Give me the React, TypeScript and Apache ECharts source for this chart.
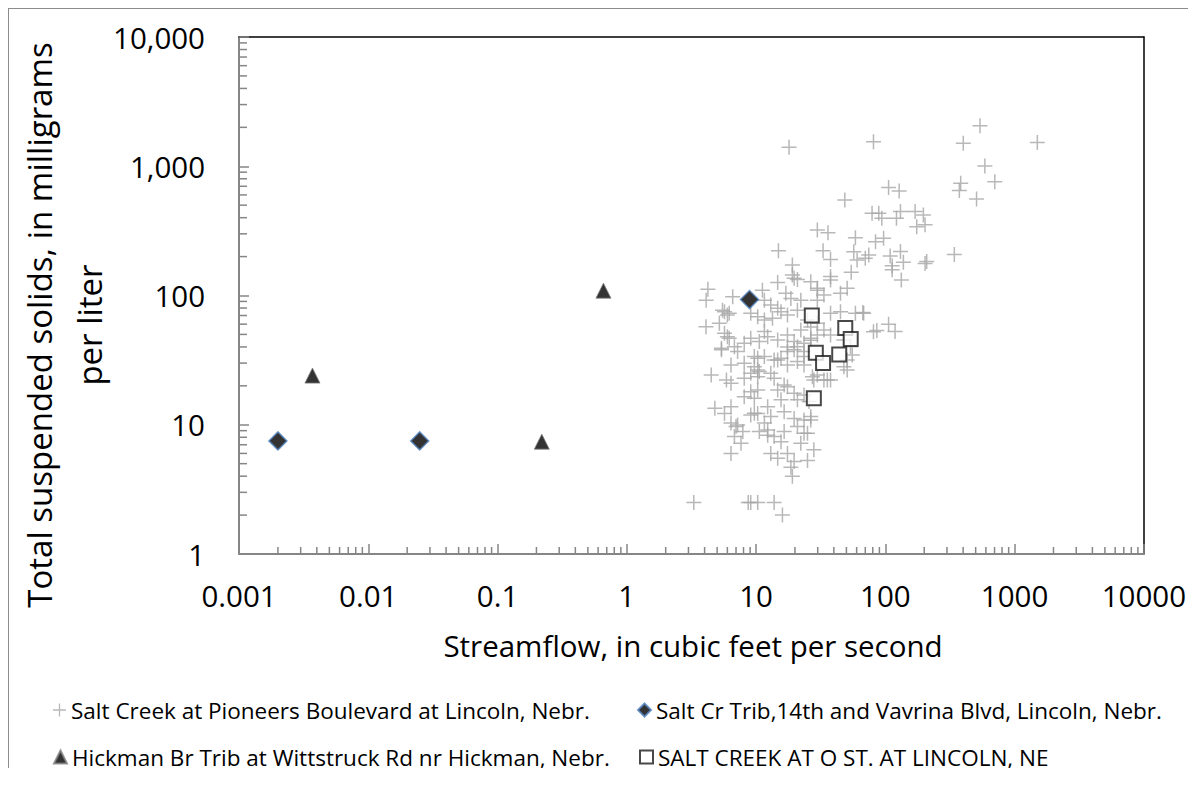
import React, { useEffect, useRef } from "react";
import * as echarts from "echarts";

const X_TICK_LABELS = ["0.001", "0.01", "0.1", "1", "10", "100", "1000", "10000"];
const Y_TICK_LABELS = ["1", "10", "100", "1,000", "10,000"];
const MINOR_MULTIPLIERS = [2, 3, 4, 5, 6, 7, 8, 9];
const X_DECADES = [0.001, 0.01, 0.1, 1, 10, 100, 1000];
const Y_DECADES = [1, 10, 100, 1000];

const SERIES_NAMES = [
  "Salt Creek at Pioneers Boulevard at Lincoln, Nebr.",
  "Salt Cr Trib,14th and Vavrina Blvd, Lincoln, Nebr.",
  "Hickman Br Trib at Wittstruck Rd nr Hickman, Nebr.",
  "SALT CREEK AT O ST. AT LINCOLN, NE",
];

// Salt Creek at Pioneers Boulevard: streamflow (cfs) and TSS (mg/L)
const PIONEERS_Q = [
  18, 81, 48.6, 29.8, 36, 58.7, 14.9, 33, 37.7, 57, 60.5, 19.1, 54.5, 19.1, 20.9, 26.5, 37.7, 50.7, 29.8, 4.24,
  4.11, 6.6, 11.2, 14.7, 17, 33.5,
  540, 401, 1500, 589, 703, 383, 374, 508, 106, 128, 79, 89, 94, 122, 131, 170, 197, 175, 203, 84,
  97, 74.5, 70, 109, 131, 138, 113, 113, 209, 203, 342, 133, 67, 86, 106, 119,
  18.6, 22.2, 29.8, 11.6, 13.0, 14.7, 5.7, 6.2, 5.2, 4.1, 9.1, 10.3, 11.6, 13.4, 15.6, 17.5, 20.9, 25, 29.8, 45,
  37.7, 58.7, 68, 81, 33.5, 37.7, 47.8, 5.7, 6.2, 5.4, 6.8, 8.1, 9.1, 10.6, 12.3, 14.7, 17.5, 19.7, 20.9, 23.5,
  26.5, 29.8, 23.5, 17.5, 13.8, 15.6, 11.6, 10.3, 7.2, 6.4, 8.1, 9.7, 10.6, 9.1, 4.5, 5.9, 6.4, 8.1, 10.3, 13.8,
  17.5, 20.9, 23.5, 28, 33.5, 37.7, 50.7, 47.8, 55.5, 53.8, 50.7, 9.1, 8.1, 9.7, 10.3, 14.7, 16.5, 19.7, 23.5, 27.3,
  15.6, 16.5, 12.3, 13, 11.6, 10.6, 9.1, 10.3, 4.8, 5.7, 6.4, 7.2, 7.9, 6.8, 7.65, 6.4, 12.3, 13.8, 13, 14.7,
  17.5, 19.7, 19.1, 18.6, 20.9, 23.5, 26.5, 25, 28, 25, 22.2, 16.5, 19.7, 3.3, 8.7, 9.1, 10.3, 13.8, 16,
  5.5, 6.0, 6.0, 5.4, 11.6, 17.5, 19.7, 22.2, 26.5, 26.5, 23.5, 14.7, 10.3, 13, 17.5, 20.9, 25.7, 29.8, 35.6, 37.7,
  29.8, 45, 19.7, 9.7, 6.4, 7.0, 9.7, 12.3, 15.6, 23.5, 26.5,
];
const PIONEERS_TSS = [
  1400, 1550, 548, 321, 306, 280, 222, 222, 190, 218, 188, 172, 151, 144, 133, 128, 132, 114, 114, 112,
  92, 98, 110, 126, 104, 101,
  2060, 1507, 1524, 1005, 760, 738, 648, 558, 684, 644, 433, 433, 396, 396, 446, 446, 420, 341, 352, 261,
  277, 206, 194, 202, 219, 181, 170, 158, 183, 177, 208, 132, 74, 53.5, 60, 52.6,
  95, 92, 92, 92, 84.5, 79.6, 75, 72.8, 61, 57.4, 72.8, 68.6, 64.7, 66.6, 75, 70.6, 77, 64.7, 61, 75,
  72.8, 72.8, 72.8, 52.5, 54, 49.5, 45.3, 51, 46.7, 39, 40.2, 42.7, 46.7, 44, 48, 45.3, 49.5, 44, 40.2, 42.7,
  46.7, 49.5, 36.8, 36.8, 31.7, 32.7, 33.7, 32.7, 36.8, 29, 29.9, 28.1, 25.8, 25, 24.3, 22.2, 20.9, 22.9, 23.5, 22.9,
  29, 30.8, 29, 22.2, 22.2, 22.2, 26.5, 28.1, 34.7, 40.2, 31.7, 18, 16.5, 16, 18.6, 18.6, 20.3, 17.5, 17, 23.5,
  15.6, 12.6, 13.8, 11.6, 10.3, 8.85, 11.9, 12.2, 13.4, 12.2, 10.3, 9.95, 8.85, 8.1, 7.2, 6, 8.3, 8.1, 6, 5.5,
  6, 5.2, 4, 4.7, 9.7, 10.9, 11.6, 8.6, 6.4, 5.3, 7.2, 8.85, 11.2, 2.5, 2.5, 2.5, 2.5, 2.5, 2,
  77, 70.6, 48, 38, 52.6, 40, 38, 54, 57, 45, 33.7, 31.7, 26.5, 25, 19.7, 15.6, 15.1, 24.3, 22.2, 140,
  110, 104, 136, 33.7, 13.8, 9.7, 12.3, 9.1, 7.4, 8.6, 10.9,
];

const VAVRINA_Q = [0.002, 0.025, 8.9];
const VAVRINA_TSS = [7.5, 7.5, 93];

const HICKMAN_Q = [0.0037, 0.22, 0.66];
const HICKMAN_TSS = [24, 7.4, 109];

const OST_Q = [27, 49, 54, 29, 44, 33, 28];
const OST_TSS = [70, 56, 46, 36, 35, 30, 16];

const PLUS_PATH = "path://M13.5,0h3v13.5h13.5v3h-13.5v13.5h-3v-13.5h-13.5v-3h13.5z";
const FONT = '"Open Sans", "DejaVu Sans", sans-serif';
const AXIS_GRAY = "#868686";

function zip(a: number[], b: number[]): number[][] {
  return a.map((v, i) => [v, b[i]]);
}

export default function App() {
  const ref = useRef<HTMLDivElement>(null);

  useEffect(() => {
    if (!ref.current) return;
    const chart = echarts.init(ref.current, undefined, { renderer: "svg" });

    const xMinor = X_DECADES.flatMap((d) => MINOR_MULTIPLIERS.map((m) => [d * m, 1]));
    const yMinor = Y_DECADES.flatMap((d) => MINOR_MULTIPLIERS.map((m) => [0.001, d * m]));

    const legendCommon = {
      orient: "horizontal" as const,
      itemWidth: 13,
      itemHeight: 13,
      padding: 0,
      selectedMode: false,
      textStyle: { fontFamily: FONT, fontSize: 22.5, color: "#000", lineHeight: 26 },
    };

    chart.setOption({
      animation: false,
      grid: { left: 230, top: 28, width: 909, height: 517, containLabel: false },
      xAxis: [
        {
          type: "log",
          logBase: 10,
          min: 0.001,
          max: 10000,
          splitNumber: 10,
          position: "bottom",
          splitLine: { show: false },
          axisLine: { onZero: false, lineStyle: { color: AXIS_GRAY, width: 2 } },
          axisTick: { inside: true, length: 10, lineStyle: { color: AXIS_GRAY, width: 1.5 } },
          axisLabel: {
            margin: 26,
            fontFamily: FONT,
            fontSize: 29.5,
            color: "#000",
            showMinLabel: true,
            showMaxLabel: true,
            formatter: (v: number) => X_TICK_LABELS[Math.round(Math.log10(v)) + 3] ?? "",
          },
        },
        {
          type: "log",
          logBase: 10,
          min: 0.001,
          max: 10000,
          position: "top",
          splitLine: { show: false },
          axisLine: { onZero: false, lineStyle: { color: "#000", width: 1.5 } },
          axisTick: { show: false },
          axisLabel: { show: false },
        },
      ],
      yAxis: [
        {
          type: "log",
          logBase: 10,
          min: 1,
          max: 10000,
          splitNumber: 10,
          position: "left",
          splitLine: { show: false },
          axisLine: { onZero: false, lineStyle: { color: AXIS_GRAY, width: 2 } },
          axisTick: { inside: true, length: 10, lineStyle: { color: AXIS_GRAY, width: 1.5 } },
          axisLabel: {
            margin: 34,
            fontFamily: FONT,
            fontSize: 29.5,
            color: "#000",
            showMinLabel: true,
            showMaxLabel: true,
            formatter: (v: number) => Y_TICK_LABELS[Math.round(Math.log10(v))] ?? "",
          },
        },
        {
          type: "log",
          logBase: 10,
          min: 1,
          max: 10000,
          position: "right",
          splitLine: { show: false },
          axisLine: { onZero: false, lineStyle: { color: "#000", width: 1.5 } },
          axisTick: { show: false },
          axisLabel: { show: false },
        },
      ],
      legend: [
        { ...legendCommon, left: 44, top: 688, data: [{ name: SERIES_NAMES[0], icon: PLUS_PATH }] },
        { ...legendCommon, left: 628, top: 688, data: [{ name: SERIES_NAMES[1], icon: "diamond" }] },
        { ...legendCommon, left: 44, top: 735, data: [{ name: SERIES_NAMES[2], icon: "triangle" }] },
        { ...legendCommon, left: 630, top: 735, data: [{ name: SERIES_NAMES[3], icon: "rect" }] },
      ],
      graphic: [
        {
          type: "text",
          x: 684,
          y: 636,
          style: {
            text: "Streamflow, in cubic feet per second",
            fontFamily: FONT,
            fontSize: 29.5,
            fill: "#000",
            align: "center",
            verticalAlign: "middle",
          },
        },
        {
          type: "text",
          x: 55,
          y: 316,
          rotation: Math.PI / 2,
          style: {
            text: "Total suspended solids, in milligrams\nper liter",
            fontFamily: FONT,
            fontSize: 33,
            lineHeight: 50,
            fill: "#000",
            align: "center",
            verticalAlign: "middle",
          },
        },
      ],
      series: [
        {
          type: "custom",
          silent: true,
          xAxisIndex: 0,
          yAxisIndex: 0,
          data: xMinor,
          clip: false,
          z: 1,
          renderItem: (_p: any, api: any) => {
            const pt = api.coord([api.value(0), api.value(1)]);
            return {
              type: "line",
              shape: { x1: pt[0], y1: pt[1], x2: pt[0], y2: pt[1] - 7 },
              style: { stroke: AXIS_GRAY, lineWidth: 1.5 },
            };
          },
        },
        {
          type: "custom",
          silent: true,
          xAxisIndex: 0,
          yAxisIndex: 0,
          data: yMinor,
          clip: false,
          z: 1,
          renderItem: (_p: any, api: any) => {
            const pt = api.coord([api.value(0), api.value(1)]);
            return {
              type: "line",
              shape: { x1: pt[0], y1: pt[1], x2: pt[0] + 8, y2: pt[1] },
              style: { stroke: AXIS_GRAY, lineWidth: 1.5 },
            };
          },
        },
        {
          name: SERIES_NAMES[0],
          type: "scatter",
          data: zip(PIONEERS_Q, PIONEERS_TSS),
          symbol: PLUS_PATH,
          symbolSize: 15,
          itemStyle: { color: "#a6a6a6" },
          z: 2,
        },
        {
          name: SERIES_NAMES[1],
          type: "scatter",
          data: zip(VAVRINA_Q, VAVRINA_TSS),
          symbol: "diamond",
          symbolSize: 18,
          itemStyle: { color: "#000", borderColor: "#4f81bd", borderWidth: 1.5 },
          z: 3,
        },
        {
          name: SERIES_NAMES[2],
          type: "scatter",
          data: zip(HICKMAN_Q, HICKMAN_TSS),
          symbol: "triangle",
          symbolSize: 15,
          itemStyle: { color: "#000", borderColor: "#7f7f7f", borderWidth: 1 },
          z: 3,
        },
        {
          name: SERIES_NAMES[3],
          type: "scatter",
          data: zip(OST_Q, OST_TSS),
          symbol: "rect",
          symbolSize: 14,
          itemStyle: { color: "#fff", borderColor: "#1a1a1a", borderWidth: 2 },
          z: 4,
        },
      ],
    });

    return () => chart.dispose();
  }, []);

  return (
    <div
      style={{
        width: 1180,
        height: 779,
        borderLeft: "1px solid #8c8c8c",
        borderTop: "1px solid #8c8c8c",
        marginBottom: -20,
      }}
    >
      <div ref={ref} style={{ width: 1180, height: 779 }} />
    </div>
  );
}
